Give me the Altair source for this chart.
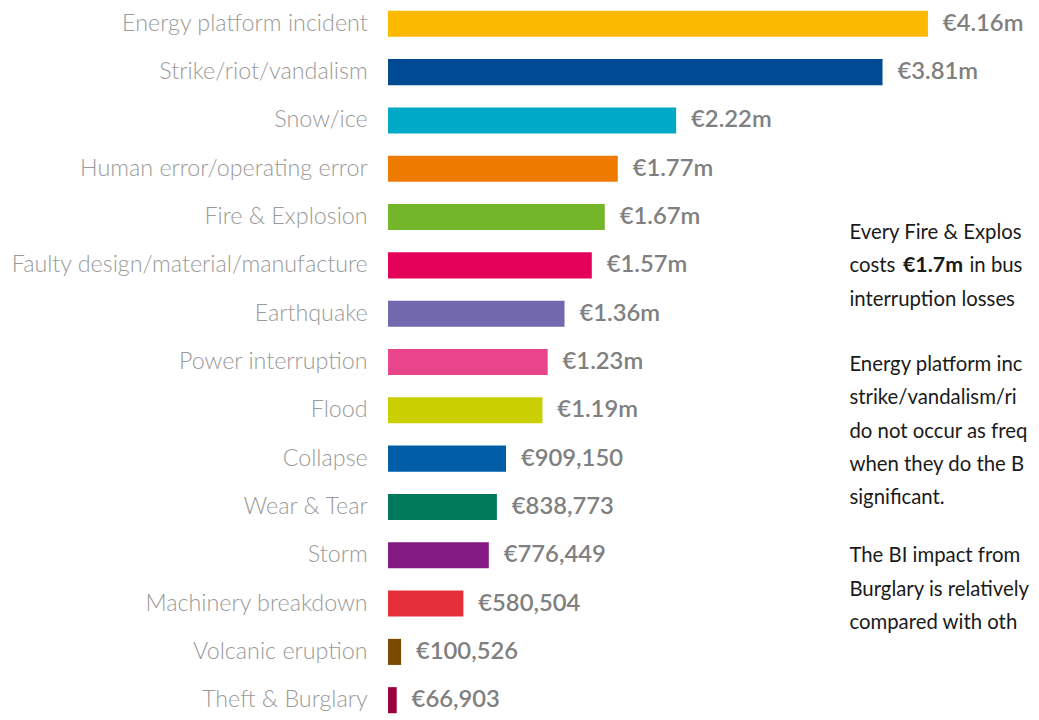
import altair as alt
import pandas as pd

causes = [
    "Energy platform incident", "Strike/riot/vandalism", "Snow/ice",
    "Human error/operating error", "Fire & Explosion",
    "Faulty design/material/manufacture", "Earthquake", "Power interruption",
    "Flood", "Collapse", "Wear & Tear", "Storm", "Machinery breakdown",
    "Volcanic eruption", "Theft & Burglary",
]
losses = [4160000, 3810000, 2220000, 1770000, 1670000, 1570000, 1360000,
          1230000, 1190000, 909150, 838773, 776449, 580504, 100526, 66903]
loss_labels = ["€4.16m", "€3.81m", "€2.22m", "€1.77m", "€1.67m", "€1.57m",
               "€1.36m", "€1.23m", "€1.19m", "€909,150", "€838,773",
               "€776,449", "€580,504", "€100,526", "€66,903"]
bar_colors = ["#fbb900", "#004a93", "#00a9c5", "#ef7a00", "#74b62a",
              "#e5005a", "#7168ae", "#e8458b", "#c9cf00", "#005ea8",
              "#00785a", "#821a82", "#e5303a", "#7a4a00", "#99003d"]

# side note text, as far as it is visible in the (cropped) reference
para1 = ["Every Fire & Explos", None, "interruption losses"]
para1_rich = ["costs", "€1.7m", "in bus"]
para2 = ["Energy platform inc", "strike/vandalism/ri",
         "do not occur as freq", "when they do the B", "significant."]
para3 = ["The BI impact from", "Burglary is relatively", "compared with oth"]

df = pd.DataFrame({"cause": causes, "loss": losses, "label": loss_labels,
                   "color": bar_colors})

y_enc = alt.Y("cause:N", sort=causes,
              scale=alt.Scale(paddingInner=0.46, paddingOuter=0),
              axis=alt.Axis(title=None, domain=False, ticks=False, grid=False,
                            labelFont="Lato", labelFontWeight=300,
                            labelFontSize=23.5, labelColor="#9a9a9a",
                            labelPadding=21, labelLimit=420,
                            minExtent=383, maxExtent=383))
x_enc = alt.X("loss:Q", axis=None, scale=alt.Scale(domain=[0, 4954000]))

base = alt.Chart(df)
bars = base.mark_bar().encode(
    x=x_enc, y=y_enc, color=alt.Color("color:N", scale=None)
)
values = base.mark_text(align="left", baseline="middle", dx=15, font="Lato",
                        fontWeight=600, fontSize=24, color="#808080").encode(
    x=x_enc, y=y_enc, text="label:N"
)

FONT = "Lato"
FS = 20.5
LH = 33.6
X0 = 465
layers = [bars, values]
ann_src = alt.Chart(pd.DataFrame({"a": [0]}))


def line(txt, x, y, weight=400, size=FS):
    return ann_src.mark_text(align="left", baseline="middle", font=FONT,
                             fontSize=size, fontWeight=weight,
                             color="#1a1a1a").encode(
        x=alt.value(x), y=alt.value(y), text=alt.value(txt))


y1 = 224
for i, t in enumerate(para1):
    if t is not None:
        layers.append(line(t, X0, y1 + i * LH))
layers.append(line(para1_rich[0], X0, y1 + LH))
layers.append(line(para1_rich[1], X0 + 54, y1 + LH, 700, 21.5))
layers.append(line(para1_rich[2], X0 + 121, y1 + LH))

y2 = 357
for i, t in enumerate(para2):
    layers.append(line(t, X0, y2 + i * LH))
y3 = 550
for i, t in enumerate(para3):
    layers.append(line(t, X0, y3 + i * LH))

chart = alt.layer(*layers).properties(
    width=648, height=708,
    padding={"left": 383, "top": 0, "right": 0, "bottom": 0},
    autosize=alt.AutoSizeParams(type="none"),
).configure_view(stroke=None)

chart.save("out.html", embed_options={"renderer": "svg", "actions": False})
